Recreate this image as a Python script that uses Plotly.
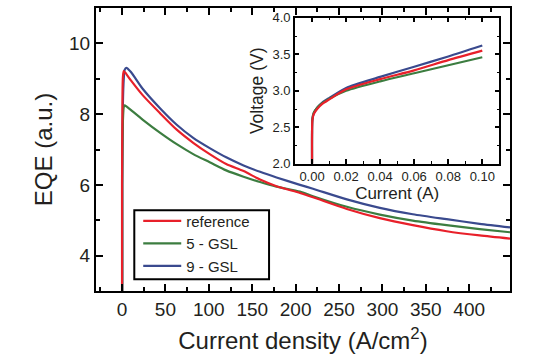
import plotly.graph_objects as go

# ---- main panel data: EQE vs current density ----
ref_x = [0, 0, 0.5, 1, 2, 5, 10, 24, 44, 63, 82, 101, 120, 140, 159, 178, 205, 220, 259, 297, 335, 374, 412, 447]
ref_y = [2.0, 6.0, 8.5, 9.05, 9.22, 9.13, 8.96, 8.53, 8.02, 7.56, 7.19, 6.87, 6.59, 6.39, 6.15, 5.96, 5.77, 5.65, 5.32, 5.06, 4.86, 4.69, 4.57, 4.48]

gsl5_x = [0.2, 0.2, 1, 2, 3, 5, 10, 24, 44, 63, 82, 101, 120, 140, 159, 178, 205, 220, 259, 297, 335, 374, 412, 447]
gsl5_y = [2.0, 6.0, 7.8, 8.2, 8.25, 8.22, 8.12, 7.84, 7.47, 7.15, 6.87, 6.64, 6.41, 6.23, 6.08, 5.95, 5.81, 5.68, 5.38, 5.16, 4.99, 4.86, 4.75, 4.66]

gsl9_x = [0.3, 0.3, 1, 2, 3, 5, 10, 24, 44, 63, 82, 101, 120, 140, 159, 178, 205, 220, 259, 297, 335, 374, 412, 447]
gsl9_y = [2.0, 6.0, 8.3, 9.0, 9.25, 9.31, 9.2, 8.71, 8.16, 7.70, 7.33, 7.04, 6.78, 6.55, 6.37, 6.21, 6.0, 5.89, 5.59, 5.35, 5.17, 5.03, 4.90, 4.80]

# ---- inset data: voltage vs current ----
cur = [0, 0, 0.0002, 0.001, 0.003, 0.006, 0.01, 0.02, 0.04, 0.06, 0.08, 0.1]
v_ref = [2.0, 2.4, 2.6, 2.68, 2.75, 2.82, 2.88, 3.02, 3.16, 3.28, 3.42, 3.55]
v_gsl5 = [2.0, 2.4, 2.62, 2.7, 2.77, 2.83, 2.89, 3.00, 3.13, 3.24, 3.35, 3.46]
v_gsl9 = [2.0, 2.4, 2.6, 2.69, 2.77, 2.84, 2.90, 3.04, 3.19, 3.33, 3.47, 3.62]

names = ["reference", "5 - GSL", "9 - GSL"]
RED, GREEN, BLUE = "#e8202a", "#3c7d40", "#3a4a8e"
FONT = "Liberation Sans, Arial, sans-serif"
TXT = "#231f20"

def ln(color):
    return dict(color=color, width=2.2, shape="spline", smoothing=0.7)

fig = go.Figure()
# draw order: blue, green, red (red on top)
fig.add_trace(go.Scatter(x=gsl9_x, y=gsl9_y, mode="lines", name=names[2], line=ln(BLUE)))
fig.add_trace(go.Scatter(x=gsl5_x, y=gsl5_y, mode="lines", name=names[1], line=ln(GREEN)))
fig.add_trace(go.Scatter(x=ref_x, y=ref_y, mode="lines", name=names[0], line=ln(RED)))

fig.add_trace(go.Scatter(x=cur, y=v_gsl9, mode="lines", showlegend=False, line=ln(BLUE), xaxis="x2", yaxis="y2"))
fig.add_trace(go.Scatter(x=cur, y=v_gsl5, mode="lines", showlegend=False, line=ln(GREEN), xaxis="x2", yaxis="y2"))
fig.add_trace(go.Scatter(x=cur, y=v_ref, mode="lines", showlegend=False, line=ln(RED), xaxis="x2", yaxis="y2"))

main_ax = dict(showgrid=False, zeroline=False, showline=True, linecolor="#000000", linewidth=2,
               mirror="ticks", ticks="inside", ticklen=7, tickwidth=2, tickcolor="#000000",
               layer="above traces",
               tickfont=dict(family=FONT, size=19, color=TXT))
inset_ax = dict(showgrid=False, zeroline=False, showline=True, linecolor="#000000", linewidth=1.8,
                mirror="ticks", ticks="inside", ticklen=4.5, tickwidth=1.5, tickcolor="#000000",
                layer="above traces",
                tickfont=dict(family=FONT, size=13, color=TXT))

fig.update_layout(
    width=542, height=354,
    margin=dict(l=96, r=32, t=1, b=63),
    paper_bgcolor="white", plot_bgcolor="white",
    font=dict(family=FONT, color=TXT),
    xaxis=dict(**main_ax, range=[-30, 447], tick0=0, dtick=50,
               minor=dict(dtick=25, ticks="inside", ticklen=4, tickwidth=2, tickcolor="#000000"),
               title=dict(text="Current density (A/cm<sup>2</sup>)", font=dict(family=FONT, size=24, color=TXT), standoff=13)),
    yaxis=dict(**main_ax, range=[3, 11], tick0=0, dtick=2,
               minor=dict(dtick=1, ticks="inside", ticklen=4, tickwidth=2, tickcolor="#000000"),
               title=dict(text="EQE (a.u.)", font=dict(family=FONT, size=24, color=TXT), standoff=10)),
    xaxis2=dict(**inset_ax, domain=[0.4807, 0.9742], anchor="y2", range=[-0.01, 0.11], tick0=0, dtick=0.02,
                tickformat=".2f",
                minor=dict(dtick=0.01, ticks="inside", ticklen=2.5, tickwidth=1.3, tickcolor="#000000"),
                title=dict(text="Current (A)", font=dict(family=FONT, size=17, color=TXT), standoff=1)),
    yaxis2=dict(**inset_ax, domain=[0.4493, 0.9655], anchor="x2", range=[2, 4], tick0=2, dtick=0.5,
                tickformat=".1f",
                minor=dict(dtick=0.25, ticks="inside", ticklen=2.5, tickwidth=1.3, tickcolor="#000000"),
                title=dict(text="Voltage (V)", font=dict(family=FONT, size=17.5, color=TXT), standoff=4)),
    legend=dict(x=0.102, y=0.305, xanchor="left", yanchor="top", bgcolor="rgba(0,0,0,0)",
                borderwidth=0, traceorder="reversed", itemwidth=38,
                font=dict(family=FONT, size=15, color=TXT), tracegroupgap=0),
    showlegend=True,
    shapes=[dict(type="rect", xref="paper", yref="paper", x0=0.0925, x1=0.418, y0=0.0414, y1=0.285,
                 fillcolor="white", line=dict(color="black", width=2), layer="above")],
)

fig.write_html("out.html")
